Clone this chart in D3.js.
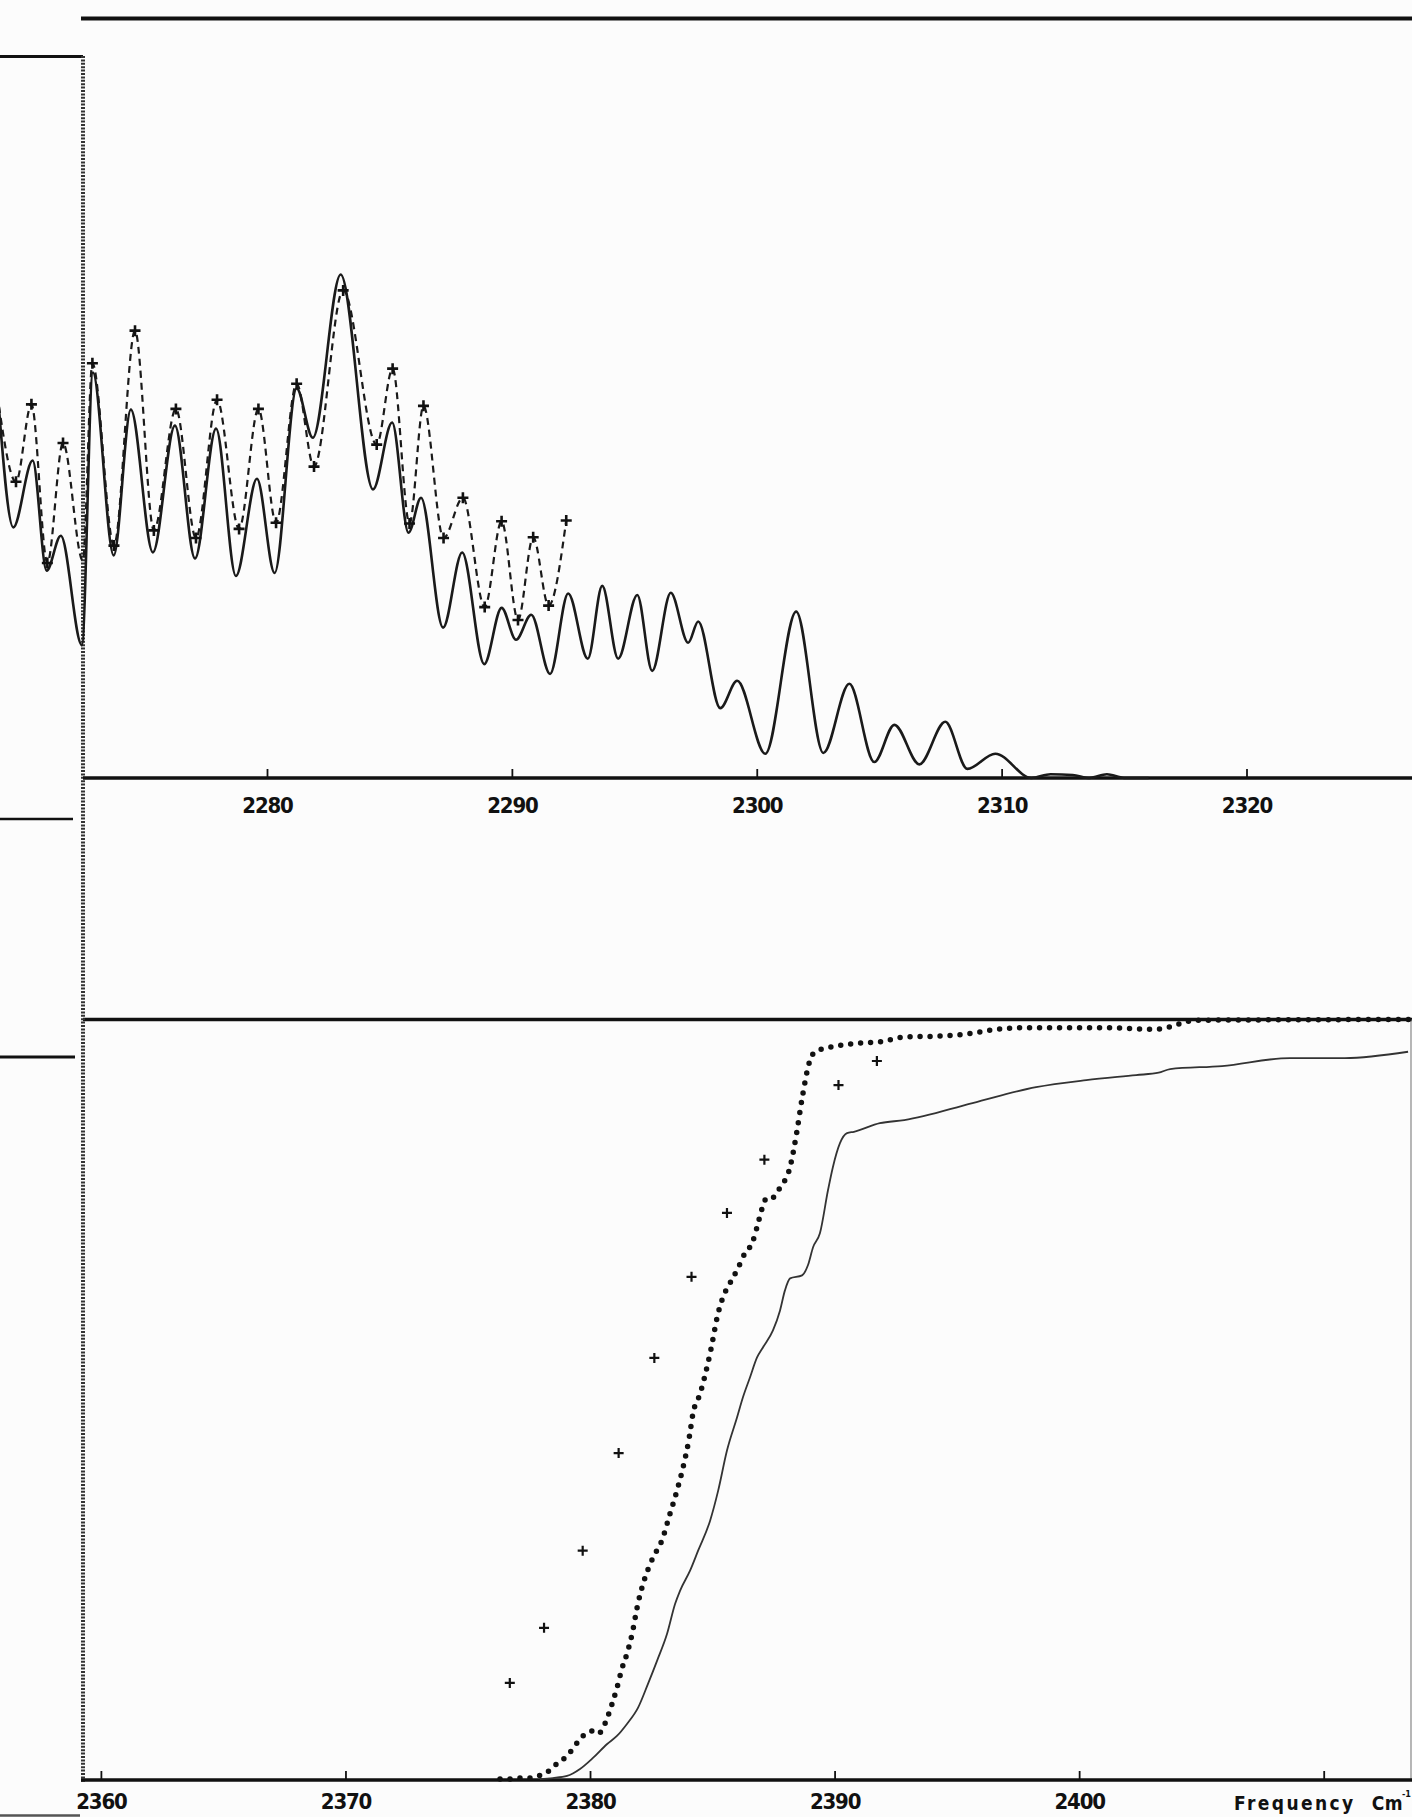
<!DOCTYPE html>
<html>
<head>
<meta charset="utf-8">
<script src="https://cdn.jsdelivr.net/npm/d3@7/dist/d3.min.js"></script>
<style>
  html, body { margin: 0; padding: 0; background: #fcfcfc; }
  svg { display: block; }
  .tick text, .label { font-family: "DejaVu Sans Condensed", "DejaVu Sans", sans-serif; font-stretch: condensed; font-weight: bold; }
</style>
</head>
<body>
<svg id="chart" width="1412" height="1817"></svg>
<script>
// ---- Upper spectrum (2270-2325 cm-1) ----
const upperTicks = [2280, 2290, 2300, 2310, 2320];

// observed band contour (solid)
const upperSolidFreq = [2269.05, 2269.64, 2270.43, 2271.00, 2271.58, 2272.44, 2272.89, 2273.74, 2274.44, 2275.34,
  2276.24, 2277.06, 2277.92, 2278.73, 2279.59, 2280.31, 2281.21, 2281.87, 2283.01, 2284.33,
  2285.11, 2285.78, 2286.29, 2287.19, 2287.97, 2288.87, 2289.58, 2290.17, 2290.79, 2291.56,
  2292.30, 2293.10, 2293.69, 2294.34, 2295.12, 2295.73, 2296.49, 2297.20, 2297.61, 2298.51,
  2299.20, 2300.35, 2301.61, 2302.72, 2303.78, 2304.80, 2305.62, 2306.64, 2307.70, 2308.60,
  2309.74, 2311.22, 2312.0, 2312.9, 2313.6, 2314.3, 2315.0, 2316.0];
const upperSolidValue = [48.8, 33.0, 41.8, 27.3, 31.9, 17.5, 53.4, 29.3, 48.5, 29.7,
  46.4, 28.9, 46.0, 26.6, 39.4, 27.0, 51.3, 44.8, 66.3, 38.0,
  46.8, 32.3, 36.9, 19.8, 29.7, 15.0, 22.4, 18.2, 21.5, 13.7,
  24.3, 15.7, 25.3, 15.7, 24.1, 14.1, 24.4, 17.8, 20.6, 9.2,
  12.8, 3.2, 21.9, 3.3, 12.4, 2.1, 7.0, 1.8, 7.4, 1.2,
  3.2, 0.0, 0.5, 0.4, 0.0, 0.5, 0.0, 0.0];

// computed contour (dashed, crosses at computed points)
const upperDashedFreq = [2269.05, 2269.75, 2270.38, 2271.03, 2271.67, 2272.48, 2272.87, 2273.75, 2274.61, 2275.38,
  2276.28, 2277.10, 2277.96, 2278.86, 2279.65, 2280.37, 2281.21, 2281.92, 2283.11, 2284.48,
  2285.13, 2285.82, 2286.39, 2287.21, 2288.00, 2288.89, 2289.58, 2290.25, 2290.87, 2291.50,
  2292.22];
const upperDashedValue = [49.0, 39.0, 49.2, 28.3, 44.1, 28.6, 54.6, 30.6, 58.9, 32.6,
  48.6, 31.6, 49.8, 32.8, 48.6, 33.6, 51.9, 41.0, 64.2, 43.9,
  53.9, 33.5, 49.0, 31.6, 36.9, 22.5, 33.8, 20.8, 31.7, 22.7,
  33.9];
const upperDashedMark = [0, 1, 1, 1, 1, 0, 1, 1, 1, 1,
  1, 1, 1, 1, 1, 1, 1, 1, 1, 1,
  1, 1, 1, 1, 1, 1, 1, 1, 1, 1,
  1];

// ---- Lower spectrum (2360-2410 cm-1) ----
const lowerTicks = [2360, 2370, 2380, 2390, 2400, 2410];
const lowerTickLabels = ["2360", "2370", "2380", "2390", "2400", ""];

// dotted contour
const lowerDottedFreq = [2376.32, 2376.73, 2377.13, 2377.54, 2377.83, 2378.16, 2378.44, 2378.69, 2379.06, 2379.47,
  2379.71, 2380.08, 2380.33, 2380.53, 2380.69, 2380.90, 2381.10, 2381.31, 2381.51, 2381.72,
  2381.96, 2382.17, 2382.57, 2382.94, 2383.27, 2383.56, 2383.84, 2384.05, 2384.21, 2384.50,
  2384.91, 2385.24, 2385.44, 2385.72, 2386.05, 2386.34, 2386.63, 2386.83, 2387.04, 2387.24,
  2387.48, 2387.77, 2388.18, 2388.45, 2388.66, 2389.00, 2389.23, 2389.88, 2391.00, 2391.92,
  2392.84, 2394.15, 2395.64, 2396.38, 2397.50, 2399.34, 2401.21, 2403.06, 2403.80, 2404.27,
  2404.74, 2413.6];
const lowerDottedValue = [0.13, 0.13, 0.26, 0.26, 0.53, 0.79, 1.58, 2.24, 3.16, 4.87,
  5.79, 6.45, 6.06, 6.85, 8.03, 10.0, 12.1, 14.7, 16.6, 19.2,
  23.2, 25.8, 29.2, 31.5, 35.0, 38.1, 41.6, 44.9, 48.2, 50.8,
  56.1, 61.4, 63.5, 65.3, 67.3, 69.3, 70.6, 72.7, 75.2, 76.6,
  76.6, 77.9, 80.6, 85.1, 89.4, 94.7, 95.8, 96.4, 96.9, 97.1,
  97.7, 97.8, 98.2, 98.6, 98.9, 98.9, 98.9, 98.7, 99.1, 99.6,
  99.9, 100.0];

// solid contour
const lowerSolidFreq = [2377.95, 2378.48, 2379.06, 2379.59, 2380.12, 2380.70, 2381.10, 2381.51, 2381.96, 2382.37,
  2382.74, 2383.15, 2383.48, 2383.68, 2384.09, 2384.42, 2384.91, 2385.24, 2385.60, 2386.01,
  2386.25, 2386.54, 2386.83, 2387.07, 2387.48, 2387.77, 2387.97, 2388.18, 2388.67, 2388.91,
  2389.12, 2389.40, 2389.73, 2389.93, 2390.22, 2390.51, 2390.79, 2391.85, 2392.85, 2395.64,
  2398.24, 2400.29, 2402.33, 2403.25, 2403.72, 2405.84, 2408.62, 2410.87, 2413.45];
const lowerSolidValue = [0.13, 0.26, 0.53, 1.45, 2.90, 4.74, 5.79, 7.37, 9.48, 12.64,
  15.67, 19.22, 23.17, 24.88, 27.52, 30.15, 34.10, 38.05, 43.32, 47.66,
  50.30, 52.93, 55.56, 56.88, 59.12, 61.75, 64.38, 65.96, 66.36, 67.68,
  70.05, 71.89, 77.55, 80.58, 83.74, 85.06, 85.23, 86.37, 86.77, 89.01,
  91.11, 92.03, 92.69, 93.0, 93.48, 93.88, 94.93, 94.93, 95.76];

// computed points (crosses)
const lowerCrossFreq = [2376.72, 2378.12, 2379.70, 2381.17, 2382.63, 2384.15, 2385.60, 2387.13, 2390.16, 2391.73];
const lowerCrossValue = [12.77, 20.01, 30.15, 42.99, 55.50, 66.16, 74.56, 81.57, 91.38, 94.54];

// ---- drawing ----
const svg = d3.select("#chart");
const ink = "#111";

const xTop = d3.scaleLinear().domain([2280, 2320]).range([267, 1246.5]);
const yTop = d3.scaleLinear().domain([0, 100]).range([778, 18.5]);
const xBot = d3.scaleLinear().domain([2360, 2410]).range([100.9, 1323.7]);
const yBot = d3.scaleLinear().domain([0, 100]).range([1780, 1019.5]);

const axisX = 83;

// frame lines
function hline(y, x1, x2, w, c) {
  svg.append("line").attr("x1", x1).attr("x2", x2).attr("y1", y).attr("y2", y)
    .attr("stroke", c || ink).attr("stroke-width", w);
}
hline(yTop(100), 81, 1412, 4);          // upper full-scale line
hline(56.5, 0, axisX, 3);
hline(819, 0, 73, 2.5);
hline(yBot(100), axisX, 1412, 3.5);     // lower full-scale line
hline(1057, 0, 75, 3);
hline(1815.5, 0, 80, 2.5, "#555");

// right border of lower frame
svg.append("line").attr("x1", 1411).attr("x2", 1411).attr("y1", yBot(100)).attr("y2", yBot(0))
  .attr("stroke", "#888").attr("stroke-width", 1.2);

// hatched vertical ordinate
svg.append("line").attr("x1", axisX).attr("x2", axisX).attr("y1", 56).attr("y2", 1783)
  .attr("stroke", "#333").attr("stroke-width", 4).attr("stroke-dasharray", "2 1.4");

// upper frequency axis
const gTop = svg.append("g").attr("transform", `translate(0,${yTop(0)})`)
  .call(d3.axisBottom(xTop).tickValues(upperTicks).tickFormat(d3.format("d"))
    .tickSizeInner(-9).tickSizeOuter(0).tickPadding(19));
gTop.select(".domain").attr("d", `M${axisX},0H1412`).attr("stroke", ink).attr("stroke-width", 3.5);
gTop.selectAll(".tick line").attr("stroke", ink).attr("stroke-width", 1.8);
gTop.selectAll(".tick text").attr("fill", ink).attr("font-size", 22).attr("letter-spacing", -1.2);

// lower frequency axis
const gBot = svg.append("g").attr("transform", `translate(0,${yBot(0)})`)
  .call(d3.axisBottom(xBot).tickValues(lowerTicks).tickFormat((d, i) => lowerTickLabels[i])
    .tickSizeInner(-9).tickSizeOuter(0).tickPadding(13));
gBot.select(".domain").attr("d", `M${axisX - 2},0H1412`).attr("stroke", ink).attr("stroke-width", 3.5);
gBot.selectAll(".tick line").attr("stroke", ink).attr("stroke-width", 1.8);
gBot.selectAll(".tick text").attr("fill", ink).attr("font-size", 22).attr("letter-spacing", -1.2);

// axis title: Frequency Cm-1 (one text run, right-aligned)
const title = svg.append("text").attr("class", "label").attr("x", 1403).attr("y", 1810)
  .attr("text-anchor", "end").attr("font-size", 19).attr("fill", ink);
title.append("tspan").attr("letter-spacing", 2.4).text("Frequency");
title.append("tspan").attr("dx", 16).attr("letter-spacing", 0.5).text("Cm");
svg.append("text").attr("class", "label").attr("x", 1411).attr("y", 1797)
  .attr("text-anchor", "end").attr("font-size", 9).attr("fill", ink).text("-1");

// upper curves
const upperSolid = upperSolidFreq.map((f, i) => [f, upperSolidValue[i]]);
const upperDashed = upperDashedFreq.map((f, i) => [f, upperDashedValue[i]]);

const lineTop = d3.line().x(d => xTop(d[0])).y(d => yTop(d[1])).curve(d3.curveMonotoneX);

svg.append("path").datum(upperSolid).attr("d", lineTop)
  .attr("fill", "none").attr("stroke", "#1a1a1a").attr("stroke-width", 2.6);

svg.append("path").datum(upperDashed).attr("d", lineTop)
  .attr("fill", "none").attr("stroke", "#1a1a1a").attr("stroke-width", 2.2)
  .attr("stroke-dasharray", "7 5");

const cross = s => `M${-s},0H${s}M0,${-s}V${s}`;
svg.append("g").selectAll("path")
  .data(upperDashed.filter((d, i) => upperDashedMark[i]))
  .join("path")
  .attr("transform", d => `translate(${xTop(d[0])},${yTop(d[1])})`)
  .attr("d", cross(5.5))
  .attr("stroke", ink).attr("stroke-width", 2.6).attr("fill", "none");

// lower curves
const lineBot = d3.line().x(d => xBot(d[0])).y(d => yBot(d[1]));
const lowerSolid = lowerSolidFreq.map((f, i) => [f, lowerSolidValue[i]]);
const lowerDotted = lowerDottedFreq.map((f, i) => [f, lowerDottedValue[i]]);

svg.append("path").datum(lowerSolid).attr("d", lineBot.curve(d3.curveMonotoneX))
  .attr("fill", "none").attr("stroke", "#333").attr("stroke-width", 1.8);

svg.append("path").datum(lowerDotted).attr("d", lineBot.curve(d3.curveMonotoneX))
  .attr("fill", "none").attr("stroke", "#111").attr("stroke-width", 5.5)
  .attr("stroke-linecap", "round").attr("stroke-dasharray", "0 10");

svg.append("g").selectAll("path")
  .data(lowerCrossFreq.map((f, i) => [f, lowerCrossValue[i]]))
  .join("path")
  .attr("transform", d => `translate(${xBot(d[0])},${yBot(d[1])})`)
  .attr("d", cross(5))
  .attr("stroke", ink).attr("stroke-width", 2.2).attr("fill", "none");
</script>
</body>
</html>
